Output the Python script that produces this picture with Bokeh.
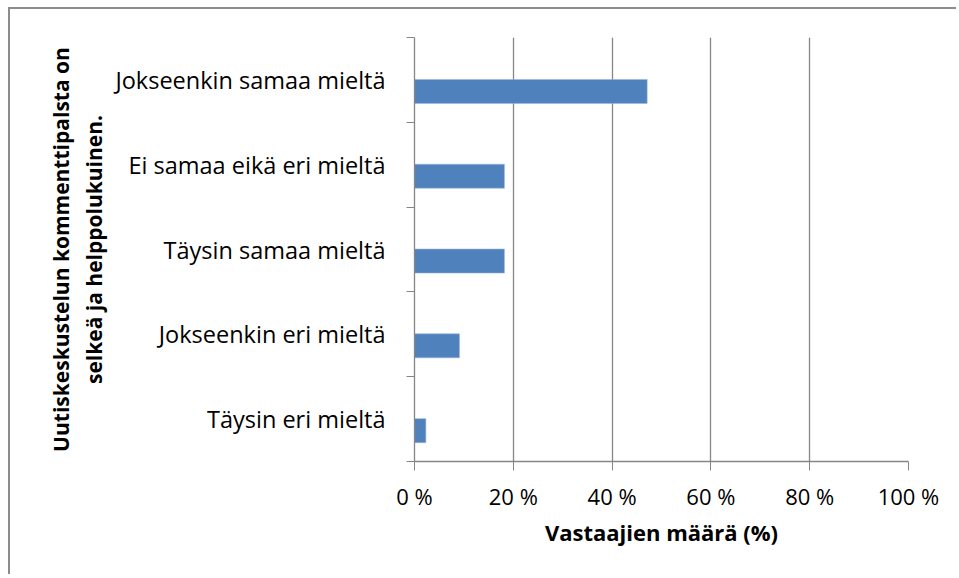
from bokeh.plotting import figure
from bokeh.models import FixedTicker, LinearAxis, Range1d, ColumnDataSource
from bokeh.transform import dodge
from bokeh.embed import file_html
from bokeh.resources import INLINE

# ---- data ----
categories = [
    "Täysin eri mieltä",
    "Jokseenkin eri mieltä",
    "Täysin samaa mieltä",
    "Ei samaa eikä eri mieltä",
    "Jokseenkin samaa mieltä",
]
values = [2.3, 9.1, 18.2, 18.2, 47.1]
x_ticks = [0, 20, 40, 60, 80, 100]
x_tick_labels = ["0 %", "20 %", "40 %", "60 %", "80 %", "100 %"]
y_title = "Uutiskeskustelun kommenttipalsta on\nselkeä ja helppolukuinen."
x_title = "Vastaajien määrä (%)"

FONT = "Open Sans"
GRAY = "#868686"
BLUE = "#4F81BD"
TXT = "#000000"

n = len(categories)
centers = [i + 0.5 for i in range(n)]
bounds = list(range(n + 1))

src = ColumnDataSource(dict(y=centers, v=values, cat=categories))

p = figure(
    width=948, height=567,
    x_range=Range1d(0, 100), y_range=Range1d(0, n),
    output_backend="svg", toolbar_location=None,
    min_border_left=404, min_border_right=50,
    min_border_top=28, min_border_bottom=115,
    styles={"margin-left": "8px", "margin-top": "7px",
            "border-left": "2px solid #8c8c8c", "border-top": "2px solid #8c8c8c"},
)
p.outline_line_color = None
p.background_fill_color = "white"
p.border_fill_color = "white"

p.hbar(y=dodge("y", -0.136, range=p.y_range), right="v", left=0, height=0.283,
       source=src, fill_color=BLUE, line_color="#9bb5d8", line_width=0.6)

# x axis
xa = p.xaxis[0]
xa.ticker = FixedTicker(ticks=x_ticks)
xa.major_label_overrides = {t: l for t, l in zip(x_ticks, x_tick_labels)}
xa.axis_line_color = GRAY
xa.axis_line_width = 1.3
xa.major_tick_line_color = GRAY
xa.major_tick_out = 9
xa.major_tick_in = 0
xa.minor_tick_line_color = None
xa.major_label_standoff = 10
xa.major_label_text_font = FONT
xa.major_label_text_font_size = "22px"
xa.major_label_text_color = TXT
xa.axis_label = x_title
xa.axis_label_text_font = FONT
xa.axis_label_text_font_size = "22px"
xa.axis_label_text_font_style = "bold"
xa.axis_label_text_color = TXT
xa.axis_label_standoff = 3

p.xgrid.ticker = FixedTicker(ticks=x_ticks)
p.xgrid.grid_line_color = GRAY
p.xgrid.grid_line_width = 1.3
p.ygrid.visible = False

# y axis with boundary ticks (no labels)
ya = p.yaxis[0]
ya.ticker = FixedTicker(ticks=bounds)
ya.major_label_overrides = {b: "" for b in bounds}
ya.major_label_standoff = 0
ya.axis_line_color = GRAY
ya.axis_line_width = 1.3
ya.major_tick_line_color = GRAY
ya.major_tick_out = 8
ya.major_tick_in = 0
ya.minor_tick_line_color = None

# y axis with category labels at centers (no ticks)
la = LinearAxis(
    ticker=FixedTicker(ticks=centers),
    major_label_overrides={c: t for c, t in zip(centers, categories)},
    axis_line_color=None, major_tick_line_color=None, minor_tick_line_color=None,
    major_tick_out=0, major_tick_in=0,
    major_label_standoff=21,
    major_label_text_font=FONT, major_label_text_font_size="23.5px",
    major_label_text_color=TXT,
    axis_label=y_title, axis_label_text_font=FONT,
    axis_label_text_font_size="21px", axis_label_text_font_style="bold",
    axis_label_text_color=TXT, axis_label_standoff=4,
)
p.add_layout(la, "left")

open("out.html", "w").write(file_html(p, INLINE))
